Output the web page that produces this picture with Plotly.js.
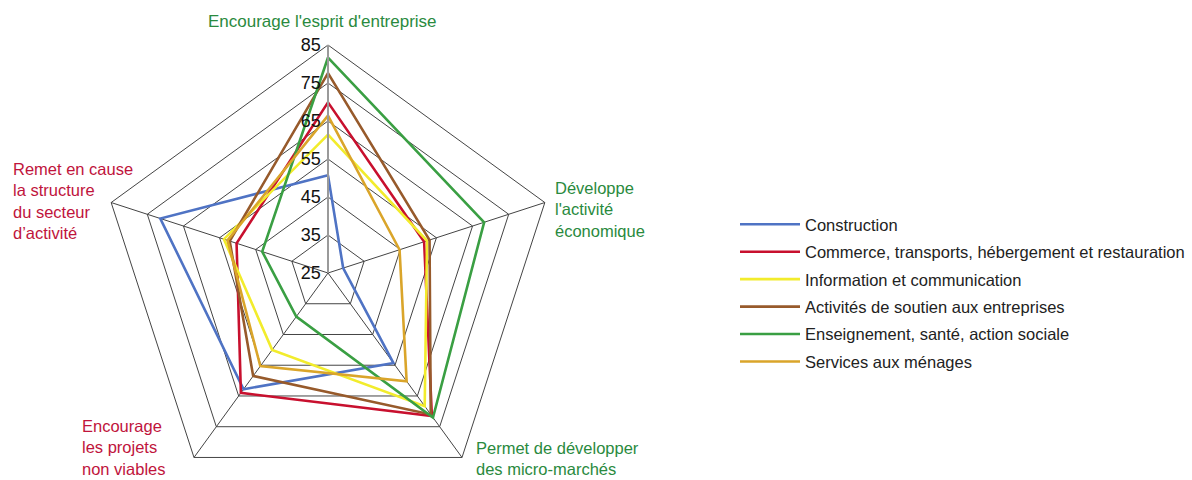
<!DOCTYPE html>
<html>
<head>
<meta charset="utf-8">
<script src="https://cdn.plot.ly/plotly-3.0.1.min.js"></script>
<style>
  html, body { margin: 0; padding: 0; overflow: hidden; background: #fff; }
  #chart { width: 1192px; height: 546px; }
</style>
</head>
<body>
<div id="chart"></div>
<script>
(function() {
  // axes, clockwise from the top
  var AXES = [
    "Encourage l'esprit d'entreprise",
    "Développe l'activité économique",
    "Permet de développer des micro-marchés",
    "Encourage les projets non viables",
    "Remet en cause la structure du secteur d’activité"
  ];
  var AXIS_LABELS = [
    "Encourage l'esprit d'entreprise",
    "Développe<br>l'activité<br>économique",
    "Permet de développer<br>des micro-marchés",
    "Encourage<br>les projets<br>non viables",
    "Remet en cause<br>la structure<br>du secteur<br>d’activité"
  ];
  var AXIS_POSITIVE = [true, true, true, false, false];

  var RADIAL_TICKS = [25, 35, 45, 55, 65, 75, 85];

  var SECTORS = [
    "Construction",
    "Commerce, transports, hébergement et restauration",
    "Information et communication",
    "Activités de soutien aux entreprises",
    "Enseignement, santé, action sociale",
    "Services aux ménages"
  ];
  var construction = [50.7, 29.2, 54.3, 62.8, 71.4];
  var commerce     = [69.9, 51.6, 71.5, 64.0, 50.3];
  var information  = [61.4, 52.4, 68.3, 50.0, 53.8];
  var soutien      = [77.6, 53.1, 71.0, 58.5, 52.2];
  var enseignement = [81.7, 68.2, 72.0, 39.2, 43.2];
  var services     = [66.4, 44.8, 60.2, 55.3, 52.8];

  var COLORS = ['#4f73c4', '#c8102e', '#f2ec2c', '#975a2b', '#3a9f43', '#daa52a'];
  var GREEN_TXT = '#2a8a3e', RED_TXT = '#c0143c';

  var W = 1192, H = 546;   // figure is taller than the 480 window; bottom is cut off
  var FONT = 'Liberation Sans, Arial, sans-serif';

  var series = [construction, commerce, information, soutien, enseignement, services];
  var traces = series.map(function(vals, i) {
    return {
      type: 'scatterpolar', mode: 'lines', name: SECTORS[i],
      r: vals.concat([vals[0]]),
      theta: AXES.concat([AXES[0]]),
      line: {color: COLORS[i], width: 2.6},
      legendgroup: 'g' + i, hoverinfo: 'skip'
    };
  });

  // label anchor points (px) for the axis names
  var LABEL_POS = [
    {x: 322, y: 22, xa: 'center'},
    {x: 553, y: 210, xa: 'left'},
    {x: 474, y: 458, xa: 'left'},
    {x: 80, y: 447, xa: 'left'},
    {x: 11, y: 201, xa: 'left'}
  ];
  var annotations = AXIS_LABELS.map(function(t, i) {
    var p = LABEL_POS[i];
    return {
      text: t, showarrow: false, xref: 'paper', yref: 'paper',
      x: p.x / W, y: 1 - p.y / H, xanchor: p.xa, yanchor: 'middle', align: 'left',
      font: {family: FONT, size: i === 0 ? 17 : 16.5, color: AXIS_POSITIVE[i] ? GREEN_TXT : RED_TXT}
    };
  });

  var layout = {
    width: W, height: H,
    margin: {l: 0, r: 0, t: 0, b: 0},
    paper_bgcolor: '#fff',
    font: {family: FONT, color: '#222'},
    showlegend: true,
    legend: {
      x: 735 / W, y: 1 - 293 / H, xanchor: 'left', yanchor: 'middle',
      font: {family: FONT, size: 16.5, color: '#222'},
      tracegroupgap: 3, itemwidth: 60, bgcolor: 'rgba(0,0,0,0)'
    },
    polar: {
      domain: {x: [100 / W, 556 / W], y: [0, 1]},
      gridshape: 'linear',
      bgcolor: '#fff',
      radialaxis: {
        range: [25, 85], tickvals: RADIAL_TICKS, ticktext: RADIAL_TICKS.map(String),
        angle: 90, tickangle: 90, side: 'counterclockwise',
        showline: true, linecolor: '#9a9a9a', linewidth: 2,
        gridcolor: '#444', gridwidth: 1, ticks: '',
        tickfont: {family: FONT, size: 18, color: '#111'}
      },
      angularaxis: {
        rotation: 90, direction: 'clockwise',
        showticklabels: false, ticks: '',
        showline: true, linecolor: '#444', linewidth: 1,
        gridcolor: '#444', gridwidth: 1
      }
    },
    annotations: annotations
  };

  Plotly.newPlot('chart', traces, layout, {staticPlot: true, displayModeBar: false});
})();
</script>
</body>
</html>
